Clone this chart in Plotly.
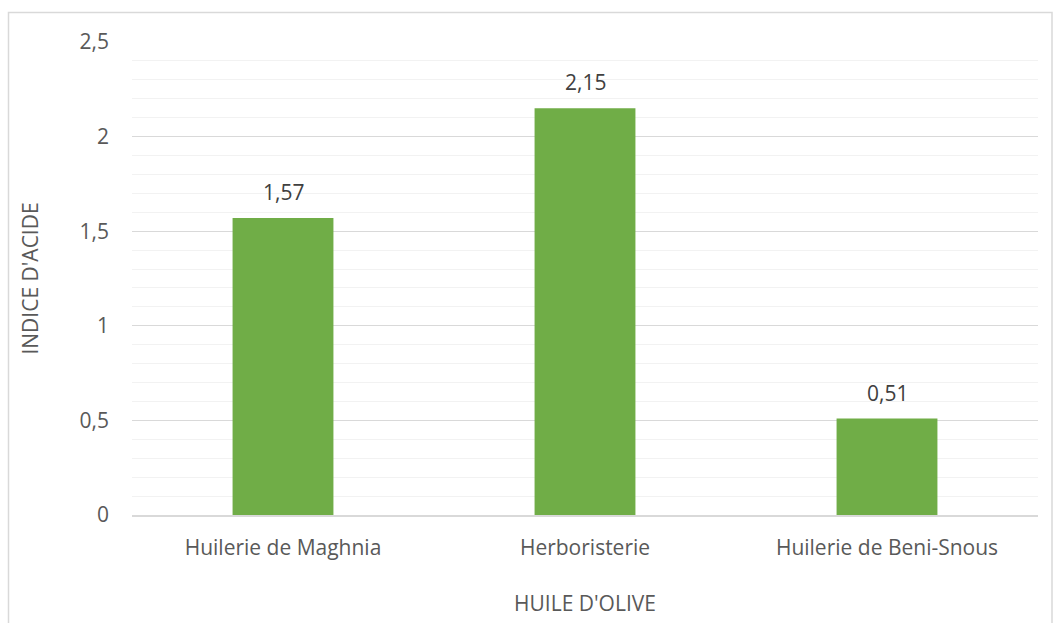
import plotly.graph_objects as go

# Indice d'acide de trois huiles d'olive
categories = ["Huilerie de Maghnia", "Herboristerie", "Huilerie de Beni-Snous"]
values = [1.57, 2.15, 0.51]
y_tick_values = [0, 0.5, 1, 1.5, 2, 2.5]
y_tick_labels = ["0", "0,5", "1", "1,5", "2", "2,5"]

W, H = 1053, 623
ML, MR, MT, MB = 132, 15, 42, 108
TEXT = "#595959"
FONT = "Open Sans"
FS = 21

fig = go.Figure(
    go.Bar(
        x=categories,
        y=values,
        marker=dict(color="#70AD47", line=dict(width=0)),
        hoverinfo="skip",
    )
)

# value labels above each bar
for cat, val in zip(categories, values):
    fig.add_annotation(
        x=cat, y=val, xref="x", yref="y",
        text=f"{val:.2f}".replace(".", ","),
        showarrow=False, yanchor="bottom", yshift=10,
        font=dict(family=FONT, size=FS, color="#404040"),
    )

pw = W - ML - MR
ph = H - MT - MB


def px_to_paper_x(px):
    return (px - ML) / pw


def px_to_paper_y(py):
    return (H - MB - py) / ph


# outer chart border
fig.add_shape(
    type="rect", xref="paper", yref="paper",
    x0=px_to_paper_x(8.5), x1=px_to_paper_x(1052),
    y0=px_to_paper_y(640), y1=px_to_paper_y(12.5),
    line=dict(color="#D9D9D9", width=1.5), fillcolor="rgba(0,0,0,0)", layer="below",
)

fig.update_layout(
    width=W, height=H,
    margin=dict(l=ML, r=MR, t=MT, b=MB),
    paper_bgcolor="white", plot_bgcolor="white",
    separators=", ",
    bargap=0.666,
    showlegend=False,
    font=dict(family=FONT, size=FS, color=TEXT),
)
fig.update_xaxes(
    showgrid=False, showline=True, linecolor="#D9D9D9", linewidth=1.5,
    ticks="", ticklabelstandoff=13,
    tickfont=dict(family=FONT, size=FS, color=TEXT),
    title=dict(text="HUILE D'OLIVE", font=dict(family=FONT, size=FS, color=TEXT), standoff=36),
)
fig.update_yaxes(
    range=[0, 2.5], tickvals=y_tick_values, ticktext=y_tick_labels,
    showgrid=True, gridcolor="#D9D9D9", gridwidth=1.2,
    minor=dict(dtick=0.1, showgrid=True, gridcolor="#F2F2F2", gridwidth=1.2),
    zeroline=False, showline=False, ticks="", ticklabelstandoff=22,
    tickfont=dict(family=FONT, size=FS, color=TEXT),
    title=dict(text="INDICE D'ACIDE", font=dict(family=FONT, size=FS, color=TEXT), standoff=35),
)

fig.write_html("out.html")
